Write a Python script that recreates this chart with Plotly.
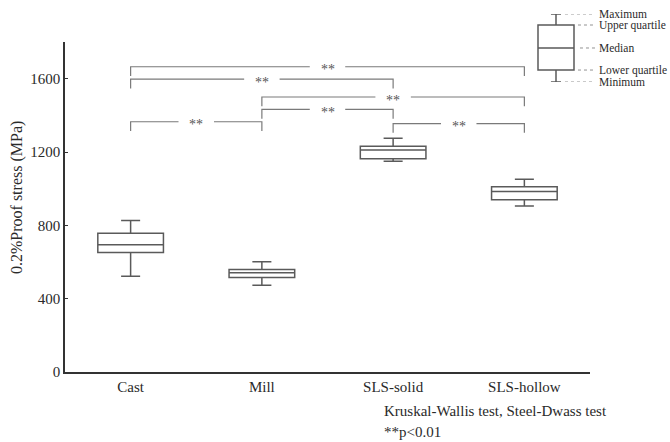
import plotly.graph_objects as go

# ---------------- data ----------------
categories = ["Cast", "Mill", "SLS-solid", "SLS-hollow"]
minimum = [522, 473, 1149, 906]
lower_quartile = [652, 515, 1163, 940]
median = [694, 541, 1211, 984]
upper_quartile = [757, 559, 1231, 1010]
maximum = [826, 601, 1275, 1052]

# significance brackets: (group a, group b, bracket height in MPa)
bracket_a = [0, 0, 1, 1, 0, 2]
bracket_b = [3, 2, 3, 2, 1, 3]
bracket_h = [1665, 1597, 1500, 1432, 1365, 1355]
bracket_label = ["**", "**", "**", "**", "**", "**"]

y_ticks = [0, 400, 800, 1200, 1600]

# legend key (schematic box)
key_labels = ["Minimum", "Lower quartile", "Median", "Upper quartile", "Maximum"]
key_values = [0.0, 0.176, 0.5, 0.838, 1.0]

# ---------------- styles ----------------
FONT = "Liberation Serif, Times New Roman, serif"
BOX_COLOR = "#5a5a5a"
BR_COLOR = "#7a7a7a"
TXT = "#2a2a2a"
drop = 50
gap = 0.135

positions = list(range(len(categories)))

fig = go.Figure()

fig.add_trace(go.Box(
    x=positions, q1=lower_quartile, median=median, q3=upper_quartile,
    lowerfence=minimum, upperfence=maximum,
    width=0.5, whiskerwidth=0.29, boxpoints=False,
    line=dict(color=BOX_COLOR, width=1.5), fillcolor="white",
    showlegend=False, hoverinfo="skip",
))

# brackets
bx, by = [], []
for a, b, h in zip(bracket_a, bracket_b, bracket_h):
    m = (a + b) / 2
    bx += [a, a, m - gap, None, m + gap, b, b, None]
    by += [h - drop, h, h, None, h, h, h - drop, None]
fig.add_trace(go.Scatter(x=bx, y=by, mode="lines",
                         line=dict(color=BR_COLOR, width=1.2),
                         showlegend=False, hoverinfo="skip"))

annotations = []
for a, b, h, t in zip(bracket_a, bracket_b, bracket_h, bracket_label):
    annotations.append(dict(x=(a + b) / 2, y=h, xref="x", yref="y", text=t,
                            showarrow=False, yanchor="middle", yshift=-3,
                            font=dict(family=FONT, size=14, color="#555555")))

# legend key box on its own axes
fig.add_trace(go.Box(
    x=[36], q1=[key_values[1]], median=[key_values[2]], q3=[key_values[3]],
    lowerfence=[key_values[0]], upperfence=[key_values[4]],
    width=36, whiskerwidth=0.28, boxpoints=False,
    line=dict(color=BOX_COLOR, width=1.5), fillcolor="white",
    xaxis="x2", yaxis="y2", showlegend=False, hoverinfo="skip",
))
lx, ly = [], []
starts = [45, 58, 60, 58, 45]
for s, v in zip(starts, key_values):
    lx += [s, 75, None]
    ly += [v, v, None]
fig.add_trace(go.Scatter(x=lx, y=ly, mode="lines", xaxis="x2", yaxis="y2",
                         line=dict(color="#777777", width=0.8, dash="dot"),
                         showlegend=False, hoverinfo="skip"))
for lab, v in zip(key_labels, key_values):
    annotations.append(dict(x=77, y=v, xref="x2", yref="y2", text=lab,
                            showarrow=False, xanchor="left", yanchor="middle",
                            font=dict(family=FONT, size=11.5, color=TXT)))

# y title and footnote
annotations.append(dict(x=-0.0807, y=0.4834, xref="paper", yref="paper",
                        text="0.2%Proof stress (MPa)", textangle=-90,
                        showarrow=False, xanchor="center", yanchor="middle",
                        font=dict(family=FONT, size=16, color=TXT)))
annotations.append(dict(x=0.5328, y=-0.1077, xref="paper", yref="paper",
                        text="Kruskal-Wallis test, Steel-Dwass test",
                        showarrow=False, xanchor="left", yanchor="middle",
                        font=dict(family=FONT, size=15, color=TXT)))
annotations.append(dict(x=0.5328, y=-0.1657, xref="paper", yref="paper",
                        text="**p<0.01",
                        showarrow=False, xanchor="left", yanchor="middle",
                        font=dict(family=FONT, size=15, color=TXT)))

fig.update_layout(
    width=670, height=442,
    margin=dict(l=65, r=10, t=10, b=70),
    paper_bgcolor="white", plot_bgcolor="rgba(0,0,0,0)",
    font=dict(family=FONT, size=15, color=TXT),
    xaxis=dict(domain=[0, 0.88235], range=[-0.5, 3.5],
               tickvals=positions, ticktext=categories,
               showline=True, linecolor="#333333", linewidth=1.5,
               ticks="", showgrid=False, zeroline=False,
               tickfont=dict(family=FONT, size=15, color=TXT)),
    yaxis=dict(domain=[0, 0.9116], range=[0, 1800], tickvals=y_ticks,
               showline=True, linecolor="#333333", linewidth=1.5,
               ticks="inside", ticklen=3, tickcolor="#333333",
               showgrid=False, zeroline=False,
               tickfont=dict(family=FONT, size=15, color=TXT)),
    xaxis2=dict(domain=[0.7647, 1.0], range=[0, 140], visible=False,
                anchor="y2", fixedrange=True),
    yaxis2=dict(domain=[0.8011, 0.9890], range=[0, 1], visible=False,
                anchor="x2", fixedrange=True),
    annotations=annotations,
)

fig.write_html("out.html")
